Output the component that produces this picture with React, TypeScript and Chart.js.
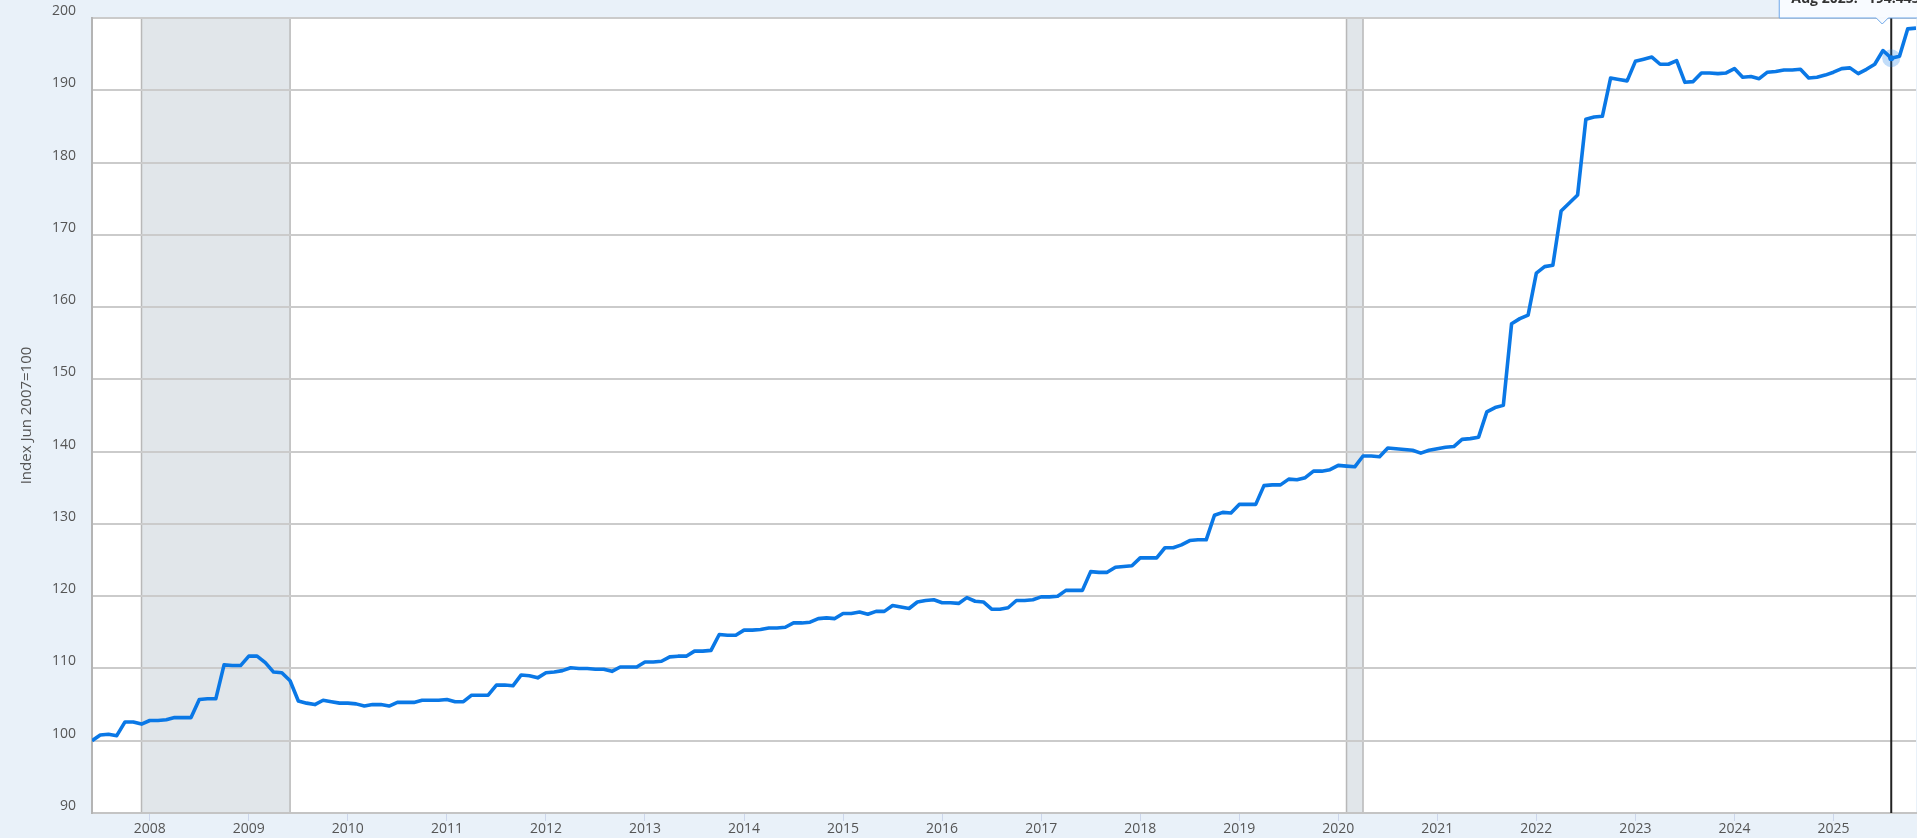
import React, { useEffect, useRef } from 'react';
import { Chart, registerables } from 'chart.js';

Chart.register(...registerables);

// Monthly series, first point = Jun 2007, last point = Nov 2025
const startYear = 2007;
const startMonth = 6;

const yearTicks = [2008, 2009, 2010, 2011, 2012, 2013, 2014, 2015, 2016, 2017, 2018, 2019, 2020, 2021, 2022, 2023, 2024, 2025];
const yTicks = [90, 100, 110, 120, 130, 140, 150, 160, 170, 180, 190, 200];

const indexValues = [
  100.0, 100.8, 100.9, 100.7, 102.6, 102.6, 102.3, 102.8, 102.8, 102.9, 103.2, 103.2,
  103.2, 105.7, 105.8, 105.8, 110.5, 110.4, 110.4, 111.7, 111.7, 110.8, 109.5, 109.4,
  108.3, 105.5, 105.2, 105.0, 105.6, 105.4, 105.2, 105.2, 105.1, 104.8, 105.0, 105.0,
  104.8, 105.3, 105.3, 105.3, 105.6, 105.6, 105.6, 105.7, 105.4, 105.4, 106.3, 106.3,
  106.3, 107.7, 107.7, 107.6, 109.1, 109.0, 108.7, 109.4, 109.5, 109.7, 110.1, 110.0,
  110.0, 109.9, 109.9, 109.6, 110.2, 110.2, 110.2, 110.9, 110.9, 111.0, 111.6, 111.7,
  111.7, 112.4, 112.4, 112.5, 114.7, 114.6, 114.6, 115.3, 115.3, 115.4, 115.6, 115.6,
  115.7, 116.3, 116.3, 116.4, 116.9, 117.0, 116.9, 117.6, 117.6, 117.8, 117.5, 117.9,
  117.9, 118.7, 118.5, 118.3, 119.2, 119.4, 119.5, 119.1, 119.1, 119.0, 119.8, 119.3,
  119.2, 118.2, 118.2, 118.4, 119.4, 119.4, 119.5, 119.9, 119.9, 120.0, 120.8, 120.8,
  120.8, 123.4, 123.3, 123.3, 124.0, 124.1, 124.2, 125.3, 125.3, 125.3, 126.7, 126.7,
  127.1, 127.7, 127.8, 127.8, 131.2, 131.6, 131.5, 132.7, 132.7, 132.7, 135.3, 135.4,
  135.4, 136.2, 136.1, 136.4, 137.3, 137.3, 137.5, 138.1, 138.0, 137.9, 139.4, 139.4,
  139.3, 140.5, 140.4, 140.3, 140.2, 139.8, 140.2, 140.4, 140.6, 140.7, 141.7, 141.8,
  142.0, 145.5, 146.1, 146.4, 157.7, 158.4, 158.9, 164.7, 165.6, 165.8, 173.3, 174.4,
  175.5, 186.0, 186.3, 186.4, 191.7, 191.5, 191.3, 194.0, 194.3, 194.6, 193.6, 193.6,
  194.1, 191.1, 191.2, 192.4, 192.4, 192.3, 192.4, 193.0, 191.8, 191.9, 191.6, 192.5,
  192.6, 192.8, 192.8, 192.9, 191.7, 191.8, 192.1, 192.5, 193.0, 193.1, 192.3, 192.9,
  193.6, 195.5, 194.44, 194.7, 198.5, 198.6,
];

// Recessions as month indices (Dec 2007 - Jun 2009, Feb 2020 - Apr 2020)
const recessionStart = [6, 152];
const recessionEnd = [24, 154];

const hoverIndex = 218;
const hoverDate = 'Aug 2025:';
const hoverValue = '194.443';
const yAxisTitle = 'Index Jun 2007=100';

const PAGE_BG = '#e9f1f9';
const LINE = '#0a78e6';
const FONT = "'Open Sans', 'Noto Sans', sans-serif";

const janIndex = (y: number) => (y - startYear) * 12 + (1 - startMonth);

const backgroundPlugin = {
  id: 'fredBackground',
  beforeDraw(chart: any) {
    const { ctx, chartArea: a, scales } = chart;
    const xs = scales.x;
    ctx.save();
    ctx.fillStyle = PAGE_BG;
    ctx.fillRect(0, 0, chart.width, chart.height);
    ctx.fillStyle = '#ffffff';
    ctx.fillRect(a.left, a.top, a.right - a.left, a.bottom - a.top);
    recessionStart.forEach((s, k) => {
      const x0 = xs.getPixelForValue(s);
      const x1 = xs.getPixelForValue(recessionEnd[k]);
      ctx.fillStyle = '#e1e6ea';
      ctx.fillRect(x0, a.top, x1 - x0, a.bottom - a.top);
      ctx.strokeStyle = '#b8b8b8';
      ctx.lineWidth = 1.5;
      ctx.beginPath();
      ctx.moveTo(x0, a.top);
      ctx.lineTo(x0, a.bottom);
      ctx.moveTo(x1, a.top);
      ctx.lineTo(x1, a.bottom);
      ctx.stroke();
    });
    ctx.restore();
  },
};

const hoverPlugin = {
  id: 'fredHover',
  afterDraw(chart: any) {
    const { ctx, chartArea: a, scales } = chart;
    const px = scales.x.getPixelForValue(hoverIndex);
    const py = scales.y.getPixelForValue(indexValues[hoverIndex]);
    ctx.save();
    // crosshair
    ctx.strokeStyle = '#222222';
    ctx.lineWidth = 2;
    ctx.beginPath();
    ctx.moveTo(px, a.top);
    ctx.lineTo(px, a.bottom);
    ctx.stroke();
    // marker halo + dot
    ctx.fillStyle = 'rgba(10,120,230,0.25)';
    ctx.beginPath();
    ctx.arc(px, py, 9, 0, Math.PI * 2);
    ctx.fill();
    ctx.fillStyle = LINE;
    ctx.beginPath();
    ctx.arc(px, py, 3, 0, Math.PI * 2);
    ctx.fill();
    // tooltip box (partly above the canvas)
    const left = px - 112;
    const right = chart.width + 20;
    const top = -30;
    const bottom = a.top;
    const ax = px - 9;
    ctx.beginPath();
    ctx.moveTo(left, top);
    ctx.lineTo(right, top);
    ctx.lineTo(right, bottom);
    ctx.lineTo(ax + 6, bottom);
    ctx.lineTo(ax, bottom + 6);
    ctx.lineTo(ax - 6, bottom);
    ctx.lineTo(left, bottom);
    ctx.closePath();
    ctx.fillStyle = 'rgba(248,251,255,0.96)';
    ctx.fill();
    ctx.strokeStyle = '#6ea8ea';
    ctx.lineWidth = 1;
    ctx.stroke();
    ctx.fillStyle = '#333333';
    ctx.font = `bold 14px ${FONT}`;
    ctx.textAlign = 'left';
    ctx.textBaseline = 'alphabetic';
    ctx.fillText(hoverDate, left + 12, 3);
    const w = ctx.measureText(hoverDate).width;
    ctx.fillText(hoverValue, left + 12 + w + 10, 3);
    ctx.restore();
  },
};

export default function App() {
  const canvasRef = useRef<HTMLCanvasElement | null>(null);

  useEffect(() => {
    const canvas = canvasRef.current;
    if (!canvas) return;
    Chart.defaults.font.family = FONT;
    const chart = new Chart(canvas, {
      type: 'line',
      data: {
        datasets: [
          {
            data: indexValues.map((v, i) => ({ x: i, y: v })),
            borderColor: LINE,
            borderWidth: 3.6,
            pointRadius: 0,
            tension: 0,
            borderJoinStyle: 'round',
            fill: false,
          },
        ],
      },
      options: {
        animation: false,
        responsive: false,
        maintainAspectRatio: false,
        devicePixelRatio: 1,
        layout: { padding: { top: 18, right: 1, bottom: 0, left: 0 } },
        plugins: {
          legend: { display: false },
          tooltip: { enabled: false },
        },
        scales: {
          x: {
            type: 'linear',
            min: 0,
            max: indexValues.length - 1,
            offset: false,
            afterBuildTicks: (scale: any) => {
              scale.ticks = yearTicks.map((y) => ({ value: janIndex(y) }));
            },
            afterFit: (scale: any) => {
              scale.height = 25;
              scale.paddingLeft = 0;
              scale.paddingRight = 0;
            },
            ticks: {
              autoSkip: false,
              maxRotation: 0,
              padding: 0,
              color: '#555555',
              font: { size: 14, family: FONT },
              callback: (value: any) => {
                const y = yearTicks.find((yy) => janIndex(yy) === value);
                return y === undefined ? '' : String(y);
              },
            },
            grid: {
              drawOnChartArea: false,
              drawTicks: true,
              tickLength: 8,
              color: '#ccd6eb',
              lineWidth: 1,
            },
            border: { display: true, color: '#c4c4c4', width: 2 },
          },
          y: {
            type: 'linear',
            min: 90,
            max: 200,
            afterBuildTicks: (scale: any) => {
              scale.ticks = yTicks.map((v) => ({ value: v }));
            },
            afterFit: (scale: any) => {
              scale.width = 92;
              scale.paddingTop = 0;
              scale.paddingBottom = 0;
            },
            ticks: {
              padding: 16,
              labelOffset: -7,
              color: '#555555',
              font: { size: 14, family: FONT },
            },
            grid: {
              color: '#cbcbcb',
              lineWidth: 2,
              drawTicks: false,
            },
            border: { display: true, color: '#b4b4b4', width: 2 },
            title: {
              display: true,
              text: yAxisTitle,
              color: '#555555',
              font: { size: 15, family: FONT },
              padding: { top: 18, bottom: 0 },
            },
          },
        },
      },
      plugins: [backgroundPlugin, hoverPlugin],
    } as any);
    return () => chart.destroy();
  }, []);

  return (
    <div style={{ position: 'fixed', left: 0, top: 0, width: 1917, height: 838, background: PAGE_BG }}>
      <canvas ref={canvasRef} width={1917} height={838} style={{ display: 'block', width: 1917, height: 838 }} />
    </div>
  );
}
